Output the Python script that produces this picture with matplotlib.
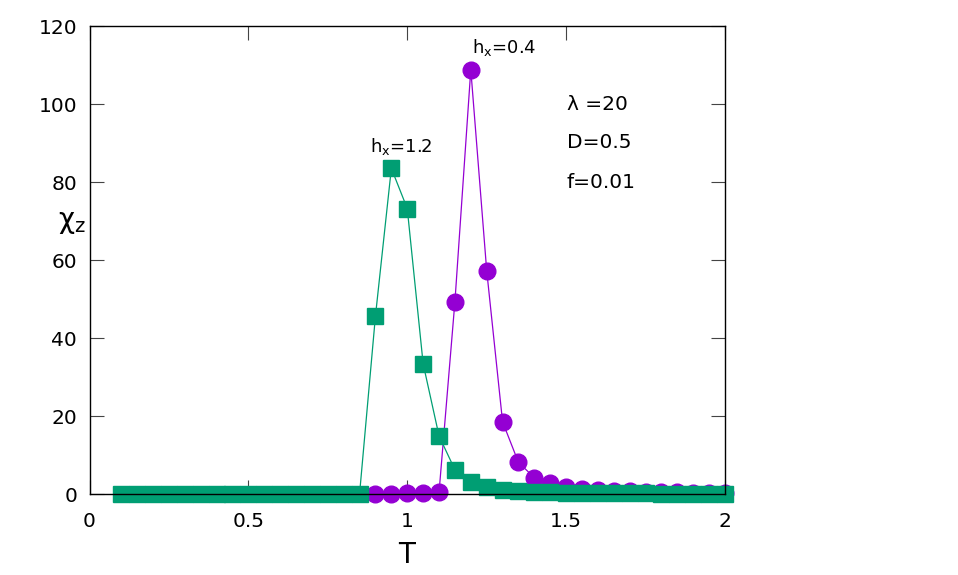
import matplotlib
matplotlib.use('Agg')
import matplotlib.pyplot as plt

plt.rcParams['font.family'] = ['DejaVu Sans']
plt.rcParams['mathtext.default'] = 'regular'

# chi_z vs T, h_x = 0.4 (purple circles)
t_04 = [0.90, 0.95, 1.00, 1.05, 1.10, 1.15, 1.20, 1.25, 1.30, 1.35, 1.40,
        1.45, 1.50, 1.55, 1.60, 1.65, 1.70, 1.75, 1.80, 1.85, 1.90, 1.95, 2.00]
chi_04 = [0.1, 0.1, 0.15, 0.3, 0.4, 49.3, 108.8, 57.3, 18.5, 8.1, 4.2,
          2.7, 1.9, 1.4, 1.0, 0.8, 0.65, 0.55, 0.45, 0.4, 0.35, 0.3, 0.28]

# h_x = 1.2 (green squares)
t_12 = [0.10, 0.15, 0.20, 0.25, 0.30, 0.35, 0.40, 0.45, 0.50, 0.55, 0.60,
        0.65, 0.70, 0.75, 0.80, 0.85, 0.90, 0.95, 1.00, 1.05, 1.10, 1.15,
        1.20, 1.25, 1.30, 1.35, 1.40, 1.45, 1.50, 1.55, 1.60, 1.65, 1.70,
        1.75, 1.80, 1.85, 1.90, 1.95, 2.00]
chi_12 = [0.0, 0.0, 0.0, 0.0, 0.0, 0.0, 0.0, 0.0, 0.0, 0.0, 0.0,
          0.0, 0.0, 0.0, 0.05, 0.1, 45.7, 83.5, 73.2, 33.4, 14.9, 6.2,
          3.1, 1.8, 1.1, 0.8, 0.55, 0.45, 0.35, 0.3, 0.25, 0.2, 0.18,
          0.15, 0.12, 0.1, 0.09, 0.08, 0.07]

params = ['λ =20', 'D=0.5', 'f=0.01']
x_ticks = [0, 0.5, 1, 1.5, 2]
x_tick_labels = ['0', '0.5', '1', '1.5', '2']
y_ticks = [0, 20, 40, 60, 80, 100, 120]

fig = plt.figure(figsize=(9.58, 5.75), dpi=100)
ax = fig.add_axes([89.5 / 958, 1 - 494 / 575, 635.5 / 958, 468 / 575])

ax.plot(t_04, chi_04, color='#9400d3', lw=0.9, marker='o', ms=12,
        mec='#9400d3', mfc='#9400d3', clip_on=False, zorder=2)
ax.plot(t_12, chi_12, color='#009e73', lw=0.9, marker='s', ms=11.5,
        mec='#009e73', mfc='#009e73', clip_on=False, zorder=2.1)

ax.set_xlim(0, 2)
ax.set_ylim(0, 120)
ax.set_xticks(x_ticks)
ax.set_xticklabels(x_tick_labels)
ax.set_yticks(y_ticks)
ax.tick_params(direction='in', length=10, width=0.8, top=True, right=True,
               labelsize=14.5, pad=9, color='#444444')
ax.tick_params(axis='x', pad=13)
for s in ax.spines.values():
    s.set_linewidth(1.0)
    s.set_zorder(3)

ax.set_xlabel('T', fontsize=20, va='center')
ax.xaxis.set_label_coords(0.4996, -0.130)
ax.set_ylabel(r'$\chi_{z}$', fontsize=20, rotation=0, va='center', ha='center')
ax.yaxis.set_label_coords(-0.0275, 0.581)

for i, s in enumerate(params):
    ax.text(1.502, 100 - 10 * i, s, fontsize=14.5, va='center', ha='left')

ax.text(1.203, 114.4, r'h$_{x}$=0.4', fontsize=13, va='center', ha='left')
ax.text(0.883, 89.2, r'h$_{x}$=1.2', fontsize=13, va='center', ha='left')

fig.savefig('out.png', dpi=100)
